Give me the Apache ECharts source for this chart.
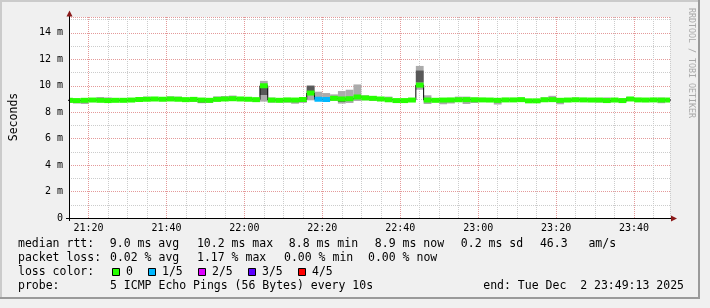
<!DOCTYPE html>
<html><head><meta charset="utf-8">
<script src="https://cdn.jsdelivr.net/npm/echarts@6/dist/echarts.min.js"></script>
<style>html,body{margin:0;padding:0;background:#f0f0f0;overflow:hidden}#c{width:710px;height:308px}</style>
</head><body><div id="c"></div>
<script>
// ---- data (2-minute steps, start time of each step) ----
const times = ['21:14','21:16','21:18','21:20','21:22','21:24','21:26','21:28','21:30','21:32',
'21:34','21:36','21:38','21:40','21:42','21:44','21:46','21:48','21:50','21:52',
'21:54','21:56','21:58','22:00','22:02','22:04','22:06','22:08','22:10','22:12',
'22:14','22:16','22:18','22:20','22:22','22:24','22:26','22:28','22:30','22:32',
'22:34','22:36','22:38','22:40','22:42','22:44','22:46','22:48','22:50','22:52',
'22:54','22:56','22:58','23:00','23:02','23:04','23:06','23:08','23:10','23:12',
'23:14','23:16','23:18','23:20','23:22','23:24','23:26','23:28','23:30','23:32',
'23:34','23:36','23:38','23:40','23:42','23:44','23:46','23:48'];
const medianMs = [8.90,8.88,8.90,8.92,8.90,8.88,8.90,8.90,8.92,8.96,
8.98,9.00,8.98,9.00,8.98,8.95,8.97,8.92,8.90,8.97,
9.00,9.02,9.00,8.98,8.95,10.00,8.92,8.90,8.93,8.92,
8.96,9.45,8.98,8.96,9.05,9.00,9.02,9.15,9.08,9.05,
9.00,8.94,8.88,8.88,8.92,10.05,8.92,8.90,8.92,8.93,
8.94,8.95,8.94,8.93,8.92,8.90,8.93,8.93,8.95,8.86,
8.86,8.94,8.95,8.90,8.92,8.94,8.93,8.92,8.92,8.88,
8.92,8.88,9.00,8.93,8.92,8.93,8.92,8.92];
const minMs = [8.70,8.66,8.62,8.80,8.80,8.78,8.80,8.78,8.82,8.84,
8.86,8.88,8.86,8.85,8.85,8.82,8.78,8.68,8.70,8.82,
8.85,8.88,8.86,8.84,8.78,8.80,8.72,8.75,8.72,8.64,
8.72,8.90,8.85,8.85,8.85,8.65,8.70,8.85,8.90,8.85,
8.85,8.80,8.76,8.76,8.80,9.70,8.62,8.78,8.60,8.66,
8.80,8.62,8.70,8.82,8.80,8.58,8.82,8.82,8.82,8.74,
8.72,8.82,8.82,8.60,8.82,8.82,8.82,8.82,8.74,8.72,
8.82,8.74,8.86,8.82,8.82,8.82,8.68,8.78];
const maxMs = [9.08,9.00,9.02,9.04,9.15,9.12,9.02,9.00,9.04,9.10,
9.18,9.10,9.08,9.20,9.18,9.05,9.06,9.02,9.02,9.20,
9.22,9.26,9.12,9.08,9.05,10.37,9.10,9.02,9.06,9.05,
9.08,10.05,9.55,9.45,9.35,9.60,9.70,10.10,9.28,9.20,
9.10,9.18,9.00,9.00,9.05,11.50,9.28,9.05,9.02,9.05,
9.18,9.18,9.10,9.08,9.05,9.05,9.06,9.04,9.10,9.00,
9.00,9.12,9.24,9.05,9.05,9.10,9.05,9.05,9.08,9.12,
9.05,9.04,9.14,9.05,9.05,9.05,9.10,9.06];
const darkLowMs = [null,null,null,null,null,null,null,null,null,null,
null,null,null,null,null,null,null,8.74,null,null,
null,null,null,null,null,9.30,null,null,null,null,
8.76,9.50,null,null,null,8.78,null,null,null,null,
null,null,null,null,null,10.25,null,null,null,null,
null,null,null,null,null,null,null,null,null,8.76,
8.76,null,null,null,null,null,null,null,null,8.76,
null,8.76,8.90,null,null,null,null,null];
const darkHighMs = [null,null,null,null,null,null,null,null,null,null,
null,null,null,null,null,null,null,8.82,null,null,
null,null,null,null,null,9.95,null,null,null,null,
8.86,9.98,null,null,null,8.88,null,null,null,null,
null,null,null,null,null,11.15,null,null,null,null,
null,null,null,null,null,null,null,null,null,8.84,
8.84,null,null,null,null,null,null,null,null,8.84,
null,8.84,9.14,null,null,null,null,null];
const lossLevel = [0,0,0,0,0,0,0,0,0,0, 0,0,0,0,0,0,0,0,0,0, 0,0,0,0,0,0,0,0,0,0,
0,0,1,1,0,0,0,0,0,0, 0,0,0,0,0,0,0,0,0,0, 0,0,0,0,0,0,0,0,0,0, 0,0,0,0,0,0,0,0,0,0, 0,0,0,0,0,0,0,0];
const lossLabels = ['0','1/5','2/5','3/5','4/5'];
const lossColors = ['#26ff00','#00b8ff','#dd00ff','#5e00ff','#ff0000'];
const xTickLabels = ['21:20','21:40','22:00','22:20','22:40','23:00','23:20','23:40'];
const yTickLabels = ['0','2 m','4 m','6 m','8 m','10 m','12 m','14 m'];
const rttLegend = ['  9.0 ms avg',' 10.2 ms max','  8.8 ms min','  8.9 ms now','  0.2 ms sd',' 46.3   am/s'];
const lossLegend = ['0.02 % avg','1.17 % max','0.00 % min','0.00 % now'];
const probeText = '5 ICMP Echo Pings (56 Bytes) every 10s';
const endText = 'end: Tue Dec  2 23:49:13 2025';

// ---- helpers ----
const STEP = 2;
const toMin = s => { const p = s.split(':').map(Number); return p[0]*60 + p[1]; };
const pad = n => (n < 10 ? '0' : '') + n;
const fmt = v => pad(Math.floor(v/60)) + ':' + pad(Math.round(v % 60));
const X_MIN = toMin('21:15');
const X_MAX = toMin('23:49') + 13/60;
const MONO = 'DejaVu Sans Mono';

const smokeData = times.map((t,i) => [toMin(t), minMs[i], maxMs[i]]);
const medData = times.map((t,i) => [toMin(t), medianMs[i]]);
const medLine = medData.concat([[toMin(times[times.length-1]) + STEP, medianMs[medianMs.length-1]]]);

function clampX(cs, a, b){ return [Math.max(a, cs.x), Math.min(b, cs.x + cs.width)]; }

function renderSmoke(params, api){
  const i = params.dataIndex, cs = params.coordSys;
  const t = api.value(0);
  const top = api.coord([t, api.value(2)]);
  const bot = api.coord([t + STEP, api.value(1)]);
  const xs = clampX(cs, top[0], bot[0]);
  if (xs[1] <= xs[0]) return null;
  const ch = [{type:'rect', shape:{x:xs[0], y:top[1], width:xs[1]-xs[0], height:bot[1]-top[1]}, style:{fill:'#ababab'}}];
  if (darkLowMs[i] != null){
    const a = api.coord([t, darkHighMs[i]]), b = api.coord([t, darkLowMs[i]]);
    ch.push({type:'rect', shape:{x:xs[0], y:a[1], width:xs[1]-xs[0], height:b[1]-a[1]}, style:{fill:'#585858'}});
  }
  return {type:'group', children: ch};
}
function renderMedian(params, api){
  const i = params.dataIndex, cs = params.coordSys;
  const t = api.value(0);
  const a = api.coord([t, api.value(1)]), b = api.coord([t + STEP, api.value(1)]);
  const xs = clampX(cs, a[0], b[0]);
  if (xs[1] <= xs[0]) return null;
  return {type:'rect', shape:{x:xs[0], y:a[1]-2.5, width:xs[1]-xs[0], height:5}, style:{fill: lossColors[lossLevel[i]]}};
}

// ---- decorations ----
const g = [];
g.push({type:'rect', z:-10, shape:{x:0,y:0,width:700,height:2}, style:{fill:'#cbcbcb'}});
g.push({type:'rect', z:-10, shape:{x:0,y:0,width:2,height:299}, style:{fill:'#cbcbcb'}});
g.push({type:'rect', z:-10, shape:{x:0,y:297,width:700,height:2}, style:{fill:'#9a9a9a'}});
g.push({type:'rect', z:-10, shape:{x:698,y:0,width:2,height:299}, style:{fill:'#9a9a9a'}});
g.push({type:'line', z:50, shape:{x1:66,y1:218.5,x2:672,y2:218.5}, style:{stroke:'#000',lineWidth:1}});
g.push({type:'line', z:50, shape:{x1:69.5,y1:221,x2:69.5,y2:16}, style:{stroke:'#000',lineWidth:1}});
g.push({type:'polygon', z:51, shape:{points:[[66.5,16.5],[72.5,16.5],[69.5,10.5]]}, style:{fill:'#8b1a1a'}});
g.push({type:'polygon', z:51, shape:{points:[[671,215.5],[671,221.5],[677,218.5]]}, style:{fill:'#8b1a1a'}});
g.push({type:'text', x:14, y:117, rotation:Math.PI/2, style:{text:'Seconds', fontSize:11.5, fontFamily:MONO, fill:'#000', align:'center', verticalAlign:'middle'}});
g.push({type:'text', x:691, y:63, rotation:-Math.PI/2, style:{text:'RRDTOOL / TOBI OETIKER', fontSize:8.3, fontFamily:MONO, fill:'#a8a8a8', align:'center', verticalAlign:'middle'}});
function txt(s, x, y, align){ g.push({type:'text', x:x, y:y, style:{text:s, fontSize:11.5, fontFamily:MONO, fill:'#000', align:align||'left', verticalAlign:'middle'}}); }
txt('median rtt:', 18, 244);
[96,190,275,361,447,533].forEach((x,k) => txt(rttLegend[k], x, 244));
txt('packet loss:', 18, 258.5);
[110,197,284,368].forEach((x,k) => txt(lossLegend[k], x, 258.5));
txt('loss color:', 18, 272.5);
[112,148,198,248,298].forEach((x,k) => {
  g.push({type:'rect', shape:{x:x+0.5, y:268.5, width:7, height:7}, style:{fill:lossColors[k], stroke:'#000', lineWidth:1}});
  txt(lossLabels[k], x+14, 272.5);
});
txt('probe:', 18, 286.5);
txt(probeText, 110, 286.5);
txt(endText, 684, 286.5, 'right');

const chart = echarts.init(document.getElementById('c'), null, {renderer:'canvas'});
chart.setOption({
  animation:false,
  backgroundColor:'#f0f0f0',
  grid:{left:69, top:17, width:601, height:201, show:true, backgroundColor:'#ffffff', borderWidth:0},
  xAxis:{type:'value', min:X_MIN, max:X_MAX, interval:5,
    axisLine:{show:false}, axisTick:{show:false},
    axisLabel:{margin:5, fontSize:10, fontFamily:MONO, color:'#000', showMinLabel:true, showMaxLabel:true,
      formatter: v => { const s = fmt(v); return xTickLabels.indexOf(s) >= 0 && v % 20 === 0 ? s : ''; }},
    splitLine:{show:true, lineStyle:{color:['#cccccc','#e49a9a','#cccccc','#cccccc'], width:1, type:[1,1]}}},
  yAxis:{type:'value', min:0, max:15.2, interval:1,
    axisLine:{show:false}, axisTick:{show:false},
    axisLabel:{margin:6, fontSize:10, fontFamily:MONO, color:'#000',
      formatter: v => (v % 2 === 0 && v/2 < yTickLabels.length) ? yTickLabels[v/2] : ''},
    splitLine:{show:true, lineStyle:{color:['#e49a9a','#cccccc'], width:1, type:[1,1]}}},
  series:[
    {type:'custom', name:'smoke', data:smokeData, renderItem:renderSmoke, z:2, silent:true},
    {type:'line', name:'median', data:medLine, step:'end', showSymbol:false, symbol:'none', clip:true,
      lineStyle:{color:'#000', width:1}, z:3, silent:true},
    {type:'custom', name:'loss', data:medData, renderItem:renderMedian, z:4, silent:true}
  ],
  graphic:{elements:g}
});
</script></body></html>
